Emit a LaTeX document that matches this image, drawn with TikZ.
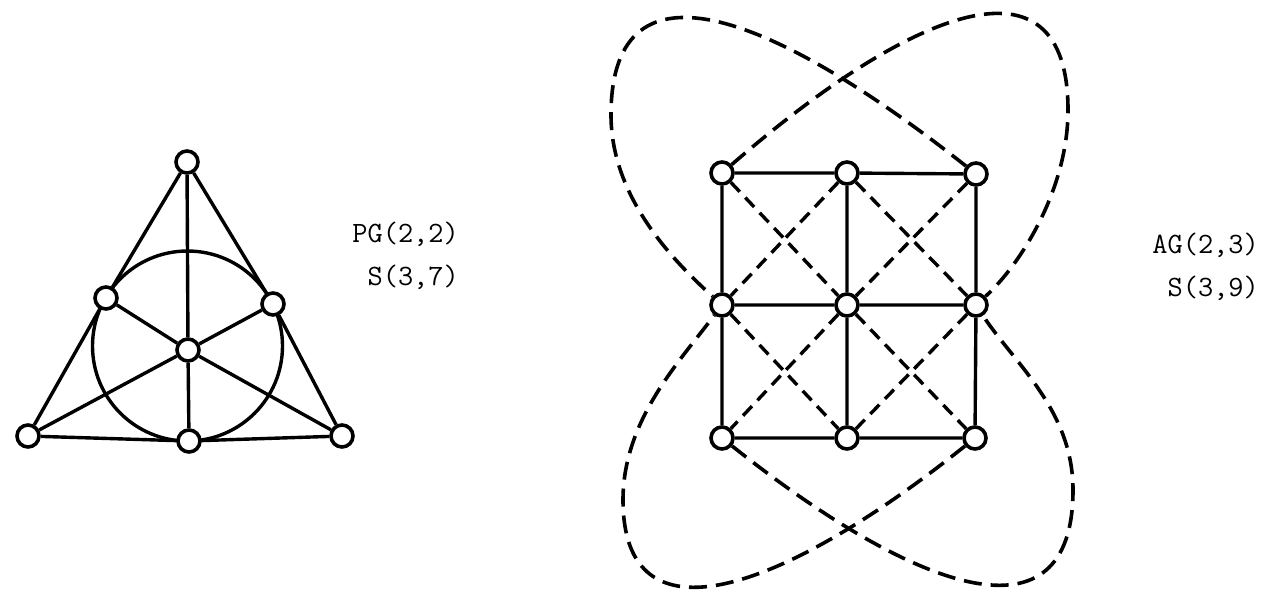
\documentclass[tikz,border=0pt]{standalone}
\usepackage{fontspec}
\begin{document}
\begin{tikzpicture}[x=1pt,y=-1pt,
  pt/.style={circle,draw,line width=3.6pt,fill=white,minimum size=22pt,inner sep=0pt},
  solidline/.style={line width=3.4pt},
  dashline/.style={line width=3.4pt,dash pattern=on 13pt off 8pt},
  loopline/.style={line width=3.6pt,dash pattern=on 18pt off 9pt},
  lbl/.style={font=\fontsize{29.5}{40}\ttfamily,inner sep=0pt,anchor=base east}]
\useasboundingbox (0,0) rectangle (1263,590);
% ---------- Fano plane ----------
\draw[solidline] (187.5,346) circle (95pt);
\node[pt] (fa) at (187,162) {};
\node[pt] (fb) at (106,298) {};
\node[pt] (fc) at (273,304) {};
\node[pt] (fg) at (188,350) {};
\node[pt] (fd) at (28,436) {};
\node[pt] (fe) at (189,441) {};
\node[pt] (ff) at (342,436) {};
\draw[solidline] (fa) -- (fb) (fb) -- (fd) (fa) -- (fc) (fc) -- (ff)
  (fd) -- (fe) (fe) -- (ff) (fa) -- (fg) (fg) -- (fe)
  (fb) -- (fg) (fg) -- (ff) (fc) -- (fg) (fg) -- (fd);
\node[lbl] (pg) at (459,242) {PG(2,2)};
\node[lbl] (s37) at (459,285) {S(3,7)};
% ---------- AG(2,3) ----------
\node[pt] (g00) at (722,173) {};
\node[pt] (g10) at (847,173) {};
\node[pt] (g20) at (976,174) {};
\node[pt] (g01) at (722,305) {};
\node[pt] (g11) at (847,305) {};
\node[pt] (g21) at (976,305) {};
\node[pt] (g02) at (722,438) {};
\node[pt] (g12) at (847,438) {};
\node[pt] (g22) at (975,438) {};
\draw[solidline] (g00) -- (g10) (g10) -- (g20) (g01) -- (g11) (g11) -- (g21)
  (g02) -- (g12) (g12) -- (g22)
  (g00) -- (g01) (g01) -- (g02) (g10) -- (g11) (g11) -- (g12)
  (g20) -- (g21) (g21) -- (g22);
\draw[dashline] (g00) -- (g11) (g11) -- (g22) (g20) -- (g11) (g11) -- (g02)
  (g10) -- (g01) (g10) -- (g21) (g01) -- (g12) (g21) -- (g12);
% loops
\draw[loopline] (g20) .. controls (781,20) and (611,-55) .. (611,115)
  .. controls (611,200) and (678,265) .. (g01);
\draw[loopline] (g00) .. controls (910,10) and (1068,-55) .. (1068,110)
  .. controls (1068,190) and (1020,265) .. (g21);
\draw[loopline] (g22) .. controls (781,593) and (623,648) .. (623,500)
  .. controls (623,420) and (680,361) .. (g01);
\draw[loopline] (g02) .. controls (917,593) and (1073,648) .. (1073,490)
  .. controls (1073,410) and (1014,363) .. (g21);
\node[lbl] (ag) at (1259,253) {AG(2,3)};
\node[lbl] (s39) at (1259,296) {S(3,9)};
\end{tikzpicture}
\end{document}
